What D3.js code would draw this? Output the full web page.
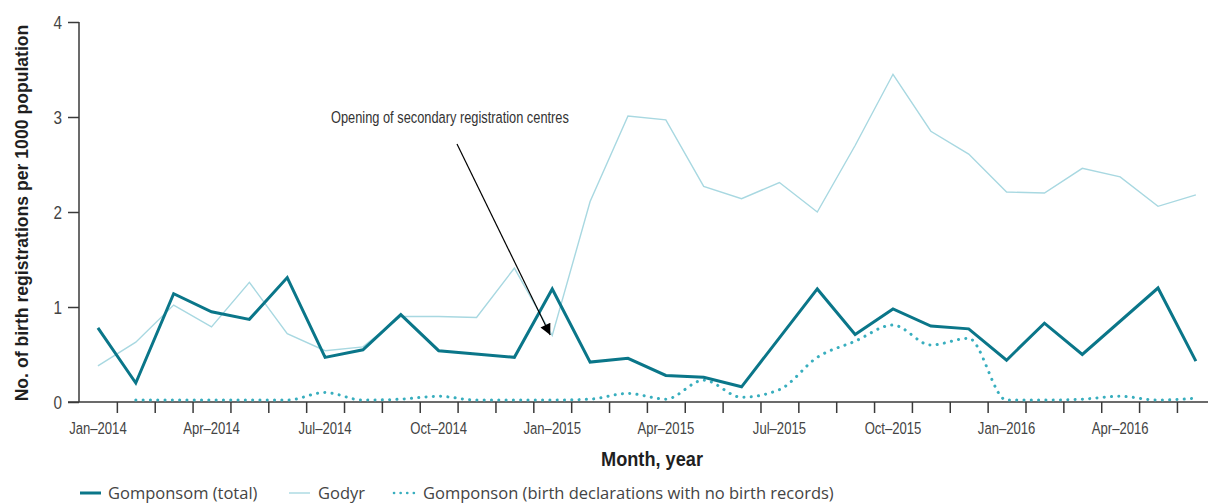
<!DOCTYPE html>
<html>
<head>
<meta charset="utf-8">
<script src="https://cdn.jsdelivr.net/npm/d3@7"></script>
<style>
  html, body { margin: 0; padding: 0; background: #fff; }
  svg { display: block; }
  .cond { font-family: "Liberation Sans", Arial, sans-serif; }
</style>
</head>
<body>
<svg id="chart" width="1208" height="504"></svg>
<script>
const months = ["2014-01","2014-02","2014-03","2014-04","2014-05","2014-06","2014-07","2014-08","2014-09","2014-10","2014-11","2014-12",
                "2015-01","2015-02","2015-03","2015-04","2015-05","2015-06","2015-07","2015-08","2015-09","2015-10","2015-11","2015-12",
                "2016-01","2016-02","2016-03","2016-04","2016-05","2016-06"];
const tickMonths = ["2014-01","2014-04","2014-07","2014-10","2015-01","2015-04","2015-07","2015-10","2016-01","2016-04"];
const tickLabels = ["Jan–2014","Apr–2014","Jul–2014","Oct–2014","Jan–2015","Apr–2015","Jul–2015","Oct–2015","Jan–2016","Apr–2016"];
const yTicks = [0, 1, 2, 3, 4];

const gomponsomTotal = [0.78,0.20,1.14,0.95,0.87,1.31,0.47,0.55,0.92,0.54,null,0.47,
                        1.19,0.42,0.46,0.28,0.26,0.16,null,1.19,0.71,0.98,0.80,0.77,
                        0.44,0.83,0.50,null,1.20,0.43];
const godyr = [0.38,0.63,1.02,0.79,1.26,0.72,0.54,0.58,0.90,0.90,0.89,1.41,
               0.70,2.11,3.01,2.97,2.27,2.14,2.31,2.00,2.70,3.45,2.85,2.61,
               2.21,2.20,2.46,2.37,2.06,2.18];
const gomponsonNoRecords = [null,0.02,0.02,0.02,0.02,0.02,0.10,0.02,0.03,0.06,0.02,0.02,
                            0.02,0.03,0.09,0.03,0.23,0.05,0.13,0.47,0.64,0.81,0.60,0.67,
                            0.02,0.02,0.03,0.06,0.02,0.04];

const seriesNames = ["Gomponsom (total)", "Godyr", "Gomponson (birth declarations with no birth records)"];
const annotationText = "Opening of secondary registration centres";
const annotationMonth = "2015-01";

const svg = d3.select("#chart");
const x0 = 79, step = 37.86;
const x = d3.scaleBand().domain(months).range([x0, x0 + step * months.length]).padding(0);
const xEdge = d3.scaleLinear().domain([0, months.length]).range([x0, x0 + step * months.length]);
const y = d3.scaleLinear().domain([0, 4]).range([402, 22]);
const cx = m => x(m) + x.bandwidth() / 2;

const axisColor = "#3a3a3a";
const textColor = "#444";
const condense = 0.77;

// text squeezed horizontally to a target width (condensed look)
function fitText(parent, str, tx, ty, rot, width, attrs) {
  const t = parent.append("text").attr("class", "cond").text(str);
  Object.entries(attrs).forEach(([k, v]) => t.attr(k, v));
  const w = t.node().getComputedTextLength();
  t.attr("transform", `translate(${tx},${ty}) rotate(${rot}) scale(${width / w},1)`);
  return t;
}

// Y axis
const yAxis = svg.append("g").attr("transform", `translate(${x0},0)`)
  .call(d3.axisLeft(y).tickValues(yTicks).tickSize(11).tickFormat(d3.format("d")));
yAxis.select(".domain").attr("stroke", axisColor).attr("stroke-width", 1.5).attr("d", `M0,${y(4)}V${y(0)}`);
yAxis.selectAll(".tick line").attr("stroke", axisColor).attr("stroke-width", 1.5);
yAxis.selectAll(".tick text").attr("class", "cond").attr("font-size", 18).attr("fill", textColor)
  .attr("x", 0).attr("dy", "0.36em").attr("transform", "translate(-17,0) scale(0.85,1)");

// X axis ticks at month boundaries
const xAxis = svg.append("g").attr("transform", `translate(0,${y(0)})`)
  .call(d3.axisBottom(xEdge).tickValues(d3.range(1, months.length + 1)).tickSize(11).tickFormat(""));
xAxis.select(".domain").attr("stroke", axisColor).attr("stroke-width", 1.5).attr("d", `M68,0H${xEdge(months.length)}`);
xAxis.selectAll(".tick line").attr("stroke", axisColor).attr("stroke-width", 1.5);

// X labels
const xLab = svg.append("g").attr("transform", `translate(0,${y(0)})`)
  .call(d3.axisBottom(x).tickValues(tickMonths).tickSize(0)
    .tickFormat(m => tickLabels[tickMonths.indexOf(m)]));
xLab.select(".domain").remove();
xLab.selectAll(".tick text").attr("class", "cond").attr("font-size", 17).attr("fill", textColor)
  .attr("y", 0).attr("dy", 0).attr("transform", `translate(0,32) scale(${condense},1)`);

// Axis titles
fitText(svg, "No. of birth registrations per 1000 population", 28, (y(0) + y(4)) / 2 + 1, -90, 377,
  { "text-anchor": "middle", "font-size": 19, "font-weight": "bold", "fill": "#1f1f1f" });
fitText(svg, "Month, year", 652, 466, 0, 102,
  { "text-anchor": "middle", "font-size": 20, "font-weight": "bold", "fill": "#1f1f1f" });

// Lines
const pts = vals => months.map((m, i) => ({ m, v: vals[i] })).filter(d => d.v !== null);
const lineStraight = d3.line().x(d => cx(d.m)).y(d => y(d.v));
const lineSmooth = d3.line().x(d => cx(d.m)).y(d => y(d.v)).curve(d3.curveMonotoneX);

const colTotal = "#0a7689", colGodyr = "#a8d8e1", colDots = "#38aebe";

svg.append("path").datum(pts(godyr)).attr("d", lineStraight)
  .attr("fill", "none").attr("stroke", colGodyr).attr("stroke-width", 1.4);
svg.append("path").datum(pts(gomponsonNoRecords)).attr("d", lineSmooth)
  .attr("fill", "none").attr("stroke", colDots).attr("stroke-width", 3)
  .attr("stroke-linecap", "round").attr("stroke-dasharray", "0.1 7.2");
svg.append("path").datum(pts(gomponsomTotal)).attr("d", lineStraight)
  .attr("fill", "none").attr("stroke", colTotal).attr("stroke-width", 3).attr("stroke-linejoin", "miter");

// Annotation
svg.append("defs").append("marker").attr("id", "arrow")
  .attr("viewBox", "0 0 10 10").attr("refX", 10).attr("refY", 5)
  .attr("markerWidth", 14).attr("markerHeight", 11).attr("markerUnits", "userSpaceOnUse")
  .attr("orient", "auto")
  .append("path").attr("d", "M0,0L10,5L0,10Z").attr("fill", "#000");
const ax = cx(annotationMonth);
svg.append("line").attr("x1", 457).attr("y1", 144).attr("x2", ax - 2).attr("y2", 335)
  .attr("stroke", "#000").attr("stroke-width", 1.2).attr("marker-end", "url(#arrow)");
fitText(svg, annotationText, 331, 123, 0, 238, { "font-size": 17, "fill": "#333" });

// Legend
const legend = svg.append("g").attr("font-family", "'Open Sans', 'Noto Sans', sans-serif").attr("font-size", 16.5).attr("fill", textColor);
const legendItems = [
  { name: seriesNames[0], x1: 80, x2: 101, tx: 108, col: colTotal, w: 3, dash: null },
  { name: seriesNames[1], x1: 289, x2: 310, tx: 318, col: colGodyr, w: 1.4, dash: null },
  { name: seriesNames[2], x1: 394, x2: 420, tx: 423, col: colDots, w: 2.6, dash: "0.1 6.5" }
];
legendItems.forEach(d => {
  legend.append("line").attr("x1", d.x1).attr("x2", d.x2).attr("y1", 493).attr("y2", 493)
    .attr("stroke", d.col).attr("stroke-width", d.w)
    .attr("stroke-linecap", d.dash ? "round" : "butt")
    .attr("stroke-dasharray", d.dash);
  legend.append("text").attr("x", d.tx).attr("y", 499).text(d.name);
});
</script>
</body>
</html>
